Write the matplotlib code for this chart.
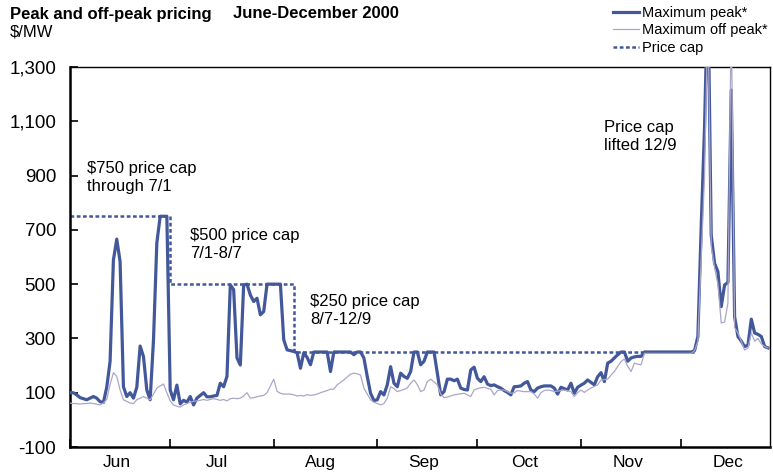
import numpy as np
import pandas as pd
import matplotlib
matplotlib.use("Agg")
import matplotlib.pyplot as plt
import matplotlib.dates as mdates
from matplotlib.ticker import FuncFormatter

plt.rcParams['font.family'] = ['Liberation Sans', 'DejaVu Sans']

# daily values, 1 June - 27 December 2000 ($/MW)
peak_jun = [100, 100, 92, 82, 78, 74, 80, 86, 80, 67, 64, 120, 215, 589, 666, 583, 122, 86, 100, 80,
            120, 272, 233, 110, 74, 295, 652, 750, 750, 750]
peak_jul = [110, 74, 128, 59, 72, 65, 86, 55, 80, 90, 100, 85, 85, 88, 90, 135, 122, 160, 497, 480,
            228, 202, 497, 500, 460, 436, 448, 387, 399, 500, 500]
peak_aug = [500, 500, 500, 295, 258, 255, 252, 247, 190, 247, 230, 203, 250, 250, 250, 250, 250, 178, 250, 250,
            250, 250, 250, 250, 240, 250, 250, 228, 160, 98, 71]
peak_sep = [74, 104, 92, 129, 196, 135, 122, 172, 160, 153, 178, 250, 250, 203, 216, 250, 250, 250, 172, 92,
            104, 150, 150, 144, 150, 117, 112, 110, 184, 194]
peak_oct = [153, 141, 159, 132, 126, 129, 122, 117, 108, 101, 92, 122, 123, 125, 135, 141, 110, 104, 117, 122,
            125, 125, 125, 117, 95, 120, 115, 110, 135, 98, 120]
peak_nov = [128, 135, 147, 138, 129, 159, 174, 141, 209, 216, 228, 240, 250, 250, 216, 228, 232, 234, 234, 250,
            250, 250, 250, 250, 250, 250, 250, 250, 250, 250]
peak_dec = [250, 250, 250, 250, 255, 307, 712, 1080, 1600, 680, 577, 546, 417, 497, 506, 1215, 380, 307, 290, 270,
            275, 371, 320, 315, 307, 270, 265]

off_jun = [62, 60, 60, 58, 60, 60, 62, 60, 58, 55, 62, 75, 130, 174, 160, 110, 74, 68, 62, 60,
           74, 80, 86, 80, 74, 95, 117, 125, 132, 100]
off_jul = [70, 55, 50, 47, 55, 60, 65, 68, 70, 72, 75, 72, 75, 78, 75, 72, 75, 70, 78, 80,
           78, 80, 88, 100, 80, 82, 85, 88, 90, 100, 125]
off_aug = [150, 105, 98, 95, 95, 95, 92, 88, 90, 88, 93, 90, 92, 95, 100, 104, 108, 113, 113, 129,
           138, 147, 158, 168, 172, 170, 165, 117, 95, 74, 65]
off_sep = [60, 55, 60, 80, 122, 115, 104, 108, 112, 118, 135, 147, 130, 104, 110, 141, 150, 140, 129, 95,
           82, 84, 88, 92, 94, 96, 98, 92, 86, 110]
off_oct = [115, 118, 120, 116, 113, 92, 108, 110, 110, 104, 98, 100, 108, 106, 104, 104, 104, 95, 80, 100,
           108, 110, 108, 104, 106, 108, 110, 107, 104, 86, 100]
off_nov = [110, 101, 110, 117, 123, 129, 147, 148, 150, 165, 178, 197, 215, 224, 197, 178, 209, 205, 203, 245,
           245, 245, 245, 245, 245, 245, 245, 245, 245, 245]
off_dec = [245, 245, 245, 245, 255, 290, 600, 900, 1500, 640, 560, 500, 357, 360, 430, 1500, 340, 320, 290, 257,
           265, 320, 290, 300, 280, 270, 265]

cap_dates = ["2000-06-01", "2000-07-01", "2000-08-07", "2000-12-05"]
cap_levels = [750, 500, 250, 250]

months = ["Jun", "Jul", "Aug", "Sep", "Oct", "Nov", "Dec"]
yticks = [-100, 100, 300, 500, 700, 900, 1100, 1300]

peak = peak_jun + peak_jul + peak_aug + peak_sep + peak_oct + peak_nov + peak_dec
offpeak = off_jun + off_jul + off_aug + off_sep + off_oct + off_nov + off_dec
days = pd.date_range("2000-06-01", periods=len(peak), freq="D")

c_peak = "#43589a"
c_off = "#aaa7c9"

W, H = 773, 473
fig = plt.figure(figsize=(W / 100, H / 100), dpi=100)
ax = fig.add_axes([70 / W, 1 - 447 / H, 700 / W, 380 / H])

ax.plot(days, peak, color=c_peak, lw=2.3, label="Maximum peak*", zorder=3)
ax.plot(days, offpeak, color=c_off, lw=0.9, label="Maximum off peak*", zorder=4)
ax.plot(pd.to_datetime(cap_dates), cap_levels, color=c_peak, lw=1.8, ls=(0, (1.5, 1)),
        drawstyle="steps-post", label="Price cap", zorder=2)

ax.set_ylim(-100, 1300)
ax.set_yticks(yticks)
ax.yaxis.set_major_formatter(FuncFormatter(lambda v, p: f"{int(v):,}"))
ax.set_xlim(pd.Timestamp("2000-06-01"), pd.Timestamp("2000-06-01") + pd.Timedelta(days=209.6))

ax.xaxis.set_major_locator(mdates.MonthLocator(bymonthday=1))
ax.xaxis.set_major_formatter(plt.NullFormatter())
ax.xaxis.set_minor_locator(mdates.MonthLocator(bymonthday=15))
ax.xaxis.set_minor_formatter(FuncFormatter(lambda v, p: months[p] if p < len(months) else ""))
ax.tick_params(axis="x", which="major", direction="in", length=6, width=1.2)
ax.tick_params(axis="x", which="minor", length=0, pad=6, labelsize=12.5)
ax.tick_params(axis="y", direction="in", length=6, width=1.2, pad=10, labelsize=13.5)

for s in ["left", "bottom"]:
    ax.spines[s].set_linewidth(1.8)
for s in ["top", "right"]:
    ax.spines[s].set_linewidth(1.0)

txt = dict(fontsize=12, va="top", ha="left", linespacing=1.25)
ax.text(pd.Timestamp("2000-06-06"), 955, "$750 price cap\nthrough 7/1", **txt)
ax.text(pd.Timestamp("2000-07-07"), 707, "$500 price cap\n7/1-8/7", **txt)
ax.text(pd.Timestamp("2000-08-12"), 464, "$250 price cap\n8/7-12/9", **txt)
ax.text(pd.Timestamp("2000-11-08"), 1105, "Price cap\nlifted 12/9", **txt)

fig.text(10 / W, 1 - 14 / H, "Peak and off-peak pricing", fontsize=12, fontweight="bold", va="center")
fig.text(233 / W, 1 - 14 / H, "June-December 2000", fontsize=12, fontweight="bold", va="center")
fig.text(10 / W, 1 - 32 / H, "$/MW", fontsize=12, va="center")

fig.legend(loc="upper right", bbox_to_anchor=(1.0, 1.0), frameon=False, fontsize=10.5,
           handlelength=1.8, handletextpad=0.15, labelspacing=0.25, borderaxespad=0.0)

fig.savefig("out.png", dpi=100)
